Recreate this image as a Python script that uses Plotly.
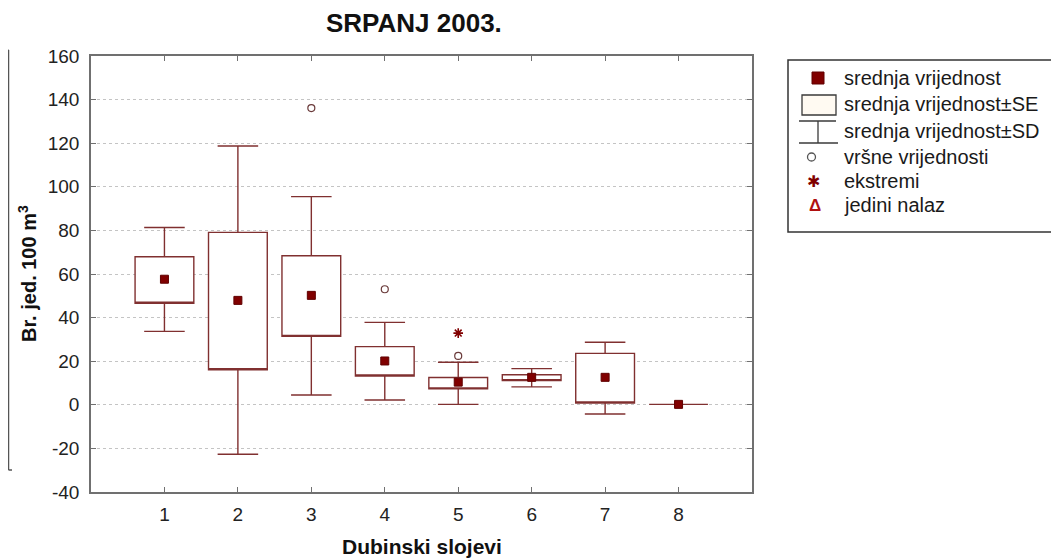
import plotly.graph_objects as go

# ---------------- data ----------------
categories = [1, 2, 3, 4, 5, 6, 7, 8]
mean_vals = [57.6, 47.9, 50.2, 20.1, 10.4, 12.6, 12.6, 0.2]
se_low = [46.6, 16.1, 31.4, 13.2, 7.3, 11.1, 0.8, 0.2]
se_high = [67.9, 79.1, 68.4, 26.7, 12.5, 13.8, 23.6, 0.2]
sd_low = [33.7, -22.7, 4.5, 2.2, 0.2, 8.2, -4.2, 0.2]
sd_high = [81.3, 118.7, 95.5, 37.8, 19.5, 16.6, 28.7, 0.2]
outlier_x = [3, 4, 5]
outlier_y = [136.1, 53.0, 22.4]
extreme_x = [5]
extreme_y = [32.9]
y_ticks = [-40, -20, 0, 20, 40, 60, 80, 100, 120, 140, 160]
y_tick_labels = ["-40", "-20", "0", "20", "40", "60", "80", "100", "120", "140", "160"]
x_tick_labels = ["1", "2", "3", "4", "5", "6", "7", "8"]
legend_labels = ["srednja vrijednost", "srednja vrijednost±SE", "srednja vrijednost±SD",
                 "vršne vrijednosti", "ekstremi", "jedini nalaz"]

# ---------------- layout geometry (reference pixels, page has an 8px body margin) ----------------
OFF = 8
W, H = 1059 - OFF, 558 - OFF
L, R, T, B = 91, 752, 56, 492          # plot area in reference page pixels
PW, PH = R - L, B - T


def px(x):
    return (x - L) / PW


def py(y):
    return (B - y) / PH


BOX_COLOR = "#803030"
MEAN_COLOR = "#800000"
FONT = "Arial, Liberation Sans, sans-serif"

fig = go.Figure()

fig.add_trace(go.Box(
    x=categories,
    q1=se_low,
    median=se_low,
    q3=se_high,
    lowerfence=sd_low,
    upperfence=sd_high,
    width=0.8,
    whiskerwidth=0.69,
    fillcolor="white",
    line=dict(color=BOX_COLOR, width=1.4),
    boxpoints=False,
    showlegend=False,
    hoverinfo="skip",
))

fig.add_trace(go.Scatter(
    x=categories, y=mean_vals, mode="markers",
    marker=dict(symbol="square", size=8, color=MEAN_COLOR,
                line=dict(color="#600000", width=1)),
    showlegend=False, hoverinfo="skip",
))

fig.add_trace(go.Scatter(
    x=outlier_x, y=outlier_y, mode="markers",
    marker=dict(symbol="circle-open", size=7, color="#6a3a3a",
                line=dict(width=1.2)),
    showlegend=False, hoverinfo="skip",
))

fig.add_trace(go.Scatter(
    x=extreme_x, y=extreme_y, mode="markers",
    marker=dict(symbol="asterisk-open", size=8, color=MEAN_COLOR,
                line=dict(width=1.6, color=MEAN_COLOR)),
    showlegend=False, hoverinfo="skip",
))

axis_common = dict(
    showline=True, linecolor="#707070", linewidth=1.5, mirror="allticks",
    ticks="inside", ticklen=5, tickcolor="#707070", tickwidth=1,
    tickfont=dict(family=FONT, size=19, color="#222222"),
    zeroline=False,
)

fig.update_xaxes(range=[0, 9], tickvals=categories, ticktext=x_tick_labels, showgrid=False,
                 ticklabelstandoff=4, **axis_common)
fig.update_yaxes(range=[-40, 160], tickvals=y_ticks, ticktext=y_tick_labels, showgrid=True,
                 gridcolor="#c4c4c4", griddash="dot", gridwidth=1,
                 ticklabelstandoff=6, **axis_common)

shapes = []
annotations = []

# title & axis titles
annotations.append(dict(text="<b>SRPANJ 2003.</b>", x=px(414), y=py(23),
                        xref="paper", yref="paper", showarrow=False,
                        font=dict(family=FONT, size=26, color="#111111"),
                        xanchor="center", yanchor="middle"))
annotations.append(dict(text="<b>Dubinski slojevi</b>", x=px(422), y=py(546),
                        xref="paper", yref="paper", showarrow=False,
                        font=dict(family=FONT, size=21, color="#111111"),
                        xanchor="center", yanchor="middle"))
annotations.append(dict(text="<b>Br. jed. 100 m<sup>3</sup></b>", x=px(27), y=py(274),
                        xref="paper", yref="paper", showarrow=False, textangle=-90,
                        font=dict(family=FONT, size=20, color="#111111"),
                        xanchor="center", yanchor="middle"))

# fragment of neighbouring chart at the far left
frag = dict(type="line", xref="paper", yref="paper", line=dict(color="#555555", width=1.5))
shapes.append(dict(frag, x0=px(8.5), x1=px(8.5), y0=py(50), y1=py(470)))
shapes.append(dict(frag, x0=px(8), x1=px(8.5), y0=py(50), y1=py(50)))
shapes.append(dict(frag, x0=px(8.5), x1=px(12), y0=py(470), y1=py(470)))

# custom legend
shapes.append(dict(type="rect", xref="paper", yref="paper",
                   x0=px(788), x1=px(1054), y0=py(60), y1=py(232),
                   line=dict(color="#333333", width=1.5), fillcolor="white"))
row_y = [78, 104, 131, 157, 181, 205]
text_x = 842
for lab, yy in zip(legend_labels, row_y):
    annotations.append(dict(text=lab, x=px(text_x), y=py(yy), xref="paper", yref="paper",
                            showarrow=False, xanchor="left", yanchor="middle",
                            font=dict(family=FONT, size=20, color="#1a1a1a")))
# mean square
shapes.append(dict(type="rect", xref="paper", yref="paper",
                   x0=px(812), x1=px(824), y0=py(72), y1=py(84),
                   fillcolor=MEAN_COLOR, line=dict(color="#600000", width=1)))
# SE box
shapes.append(dict(type="rect", xref="paper", yref="paper",
                   x0=px(802), x1=px(836), y0=py(95), y1=py(115),
                   fillcolor="#fffaf2", line=dict(color="#3a3a3a", width=1.3)))
# SD whisker symbol
ln = dict(type="line", xref="paper", yref="paper", line=dict(color="#3a3a3a", width=1.3))
shapes.append(dict(ln, x0=px(799), x1=px(836), y0=py(121), y1=py(121)))
shapes.append(dict(ln, x0=px(818), x1=px(818), y0=py(121), y1=py(143)))
shapes.append(dict(ln, x0=px(799), x1=px(838), y0=py(143), y1=py(143)))
# circle (outlier)
shapes.append(dict(type="circle", xref="paper", yref="paper",
                   x0=px(807.5), x1=px(815.5), y0=py(153), y1=py(161),
                   line=dict(color="#555555", width=1.3)))
annotations.append(dict(text="✱", x=px(813), y=py(181), xref="paper", yref="paper",
                        showarrow=False, xanchor="center", yanchor="middle",
                        font=dict(family="DejaVu Sans", size=16, color=MEAN_COLOR)))
annotations.append(dict(text="<b>Δ</b>", x=px(815), y=py(205), xref="paper", yref="paper",
                        showarrow=False, xanchor="center", yanchor="middle",
                        font=dict(family=FONT, size=17, color="#b01010")))

fig.update_layout(
    width=W, height=H,
    margin=dict(l=L - OFF, r=(W + OFF) - R, t=T - OFF, b=(H + OFF) - B, pad=0),
    plot_bgcolor="white", paper_bgcolor="white",
    shapes=shapes, annotations=annotations,
    showlegend=False,
    font=dict(family=FONT),
)

fig.write_html("out.html")
